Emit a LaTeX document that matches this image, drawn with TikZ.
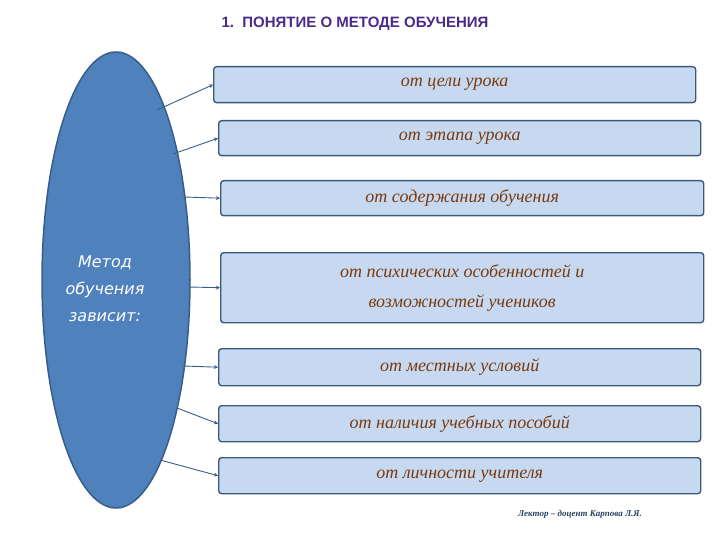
\documentclass[tikz,border=0pt]{standalone}
\usepackage{fontspec}
\setmainfont{Liberation Serif}
\newfontfamily\dvs{DejaVu Sans}
\newfontfamily\hv{Liberation Sans}
\usetikzlibrary{shapes.geometric,arrows.meta}
\definecolor{boxfill}{HTML}{C6D9F0}
\definecolor{boxdraw}{HTML}{3B5A7A}
\definecolor{ellfill}{HTML}{4F81BD}
\definecolor{ellline}{HTML}{385D8A}
\definecolor{txtbrown}{HTML}{7A3A10}
\definecolor{ttl}{HTML}{4B2A8A}
\tikzset{
 item/.style={draw=boxdraw,line width=1.4pt,fill=boxfill,rounded corners=3pt,anchor=north west,inner sep=0pt,align=center,font=\itshape\fontsize{18}{21}\selectfont,text=txtbrown},
 conn/.style={draw=ellline,line width=0.9pt,-{Stealth[length=4pt,width=4pt]}}
}
\begin{document}
\begin{tikzpicture}[x=1pt,y=-1pt]
\useasboundingbox (0,0) rectangle (720,540);
\node[ellipse,draw=ellline,line width=1.5pt,fill=ellfill,minimum width=148pt,minimum height=456pt,inner sep=0pt] (el) at (116,280) {};
\node[text=white,align=center,font=\dvs\itshape\fontsize{16}{27}\selectfont] (eltxt) at (105,289) {Метод\\обучения\\зависит:};
\node[font=\hv\bfseries\fontsize{15}{18}\selectfont,text=ttl] (title) at (355,24) {1.\ \ ПОНЯТИЕ О МЕТОДЕ ОБУЧЕНИЯ};
\node[item,minimum width=482pt,minimum height=36pt] (b1) at (213,66) {от цели урока};
\node[item,minimum width=482pt,minimum height=35pt] (b2) at (218,120) {от этапа урока};
\node[item,minimum width=483pt,minimum height=35pt] (b3) at (220,180) {от содержания обучения};
\node[item,minimum width=483pt,minimum height=70pt,font=\itshape\fontsize{18}{30}\selectfont] (b4) at (220,252) {от психических особенностей и\\возможностей учеников};
\node[item,minimum width=482pt,minimum height=37pt] (b5) at (218,348) {от местных условий};
\node[item,minimum width=482pt,minimum height=36pt] (b6) at (218,405) {от наличия учебных пособий};
\node[item,minimum width=482pt,minimum height=36pt] (b7) at (218,457) {от личности учителя};
\coordinate (s1) at (157,110);
\coordinate (s2) at (173,154);
\coordinate (s3) at (184,197);
\coordinate (s4) at (189,287);
\coordinate (s5) at (184,366);
\coordinate (s6) at (177,408);
\coordinate (s7) at (160,460);
\draw[conn] (s1) -- (b1.west);
\draw[conn] (s2) -- (b2.west);
\draw[conn] (s3) -- (b3.west);
\draw[conn] (s4) -- (b4.west);
\draw[conn] (s5) -- (b5.west);
\draw[conn] (s6) -- (b6.west);
\draw[conn] (s7) -- (b7.west);
\node[font=\itshape\bfseries\fontsize{9}{10}\selectfont,text=ellline!70!black] (lect) at (580,514) {Лектор – доцент Карпова Л.Я.};
\end{tikzpicture}
\end{document}
